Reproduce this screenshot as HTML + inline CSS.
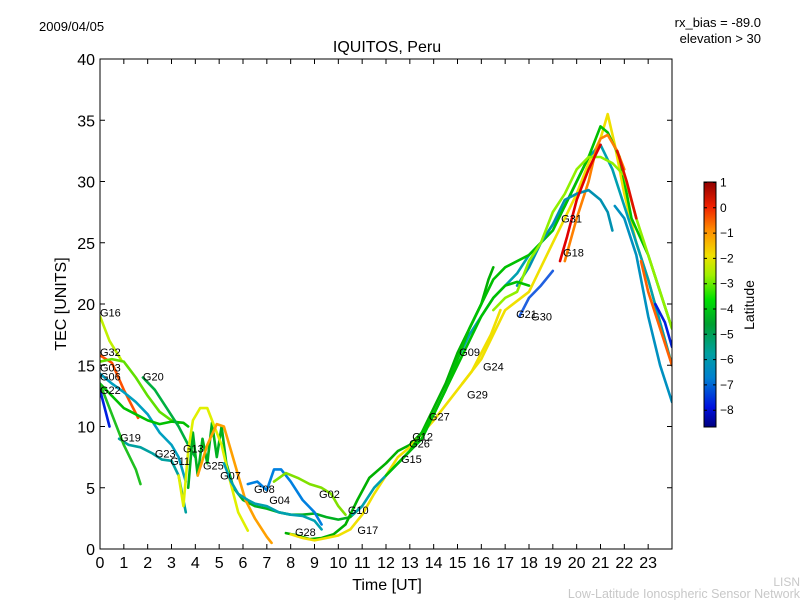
<!DOCTYPE html>
<html><head><meta charset="utf-8"><style>
body{margin:0;background:#fff;font-family:"Liberation Sans","DejaVu Sans",sans-serif}
svg text{font-family:"Liberation Sans","DejaVu Sans",sans-serif}
</style></head><body>
<svg id="chart" width="800" height="600" viewBox="0 0 800 600" xmlns="http://www.w3.org/2000/svg">
<defs>
<linearGradient id="jet" x1="0" y1="1" x2="0" y2="0">
<stop offset="0" stop-color="#000080"/><stop offset="0.08" stop-color="#0010e0"/>
<stop offset="0.2" stop-color="#0080d0"/><stop offset="0.3" stop-color="#00a0a0"/>
<stop offset="0.42" stop-color="#00a030"/><stop offset="0.52" stop-color="#00e000"/>
<stop offset="0.62" stop-color="#a0f000"/><stop offset="0.7" stop-color="#f0e000"/>
<stop offset="0.8" stop-color="#ff9000"/><stop offset="0.9" stop-color="#f02000"/>
<stop offset="1" stop-color="#900000"/></linearGradient>
<clipPath id="pc"><rect x="100" y="59" width="572" height="490"/></clipPath>
</defs>
<text x="39" y="31" font-size="13">2009/04/05</text>
<text x="761" y="27" font-size="13" text-anchor="end">rx_bias = -89.0</text>
<text x="761" y="43" font-size="13" text-anchor="end">elevation &gt; 30</text>
<text x="387" y="52" font-size="16" text-anchor="middle">IQUITOS, Peru</text>
<text x="387" y="590" font-size="16" text-anchor="middle">Time [UT]</text>
<text x="66" y="304" font-size="16" text-anchor="middle" transform="rotate(-90 66 304)">TEC [UNITS]</text>
<g id="tracks" clip-path="url(#pc)"></g>
<g id="labels"></g>
<rect x="100" y="59" width="572" height="490" fill="none" stroke="#000" stroke-width="1"/>
<g id="axes"></g>
<rect x="704" y="182" width="12" height="245" fill="url(#jet)" stroke="#000" stroke-width="1"/>
<g id="cbticks"></g>
<text x="754" y="305" font-size="14" text-anchor="middle" transform="rotate(-90 754 305)">Latitude</text>
<text x="800" y="586" font-size="12" fill="#c8c8c8" text-anchor="end">LISN</text>
<text x="800" y="598" font-size="12.5" fill="#c8c8c8" text-anchor="end">Low-Latitude Ionospheric Sensor Network</text>
</svg>
<script>
const xTicks=[0,1,2,3,4,5,6,7,8,9,10,11,12,13,14,15,16,17,18,19,20,21,22,23];
const yTicks=[0,5,10,15,20,25,30,35,40];
const cbTicks=[1,0,-1,-2,-3,-4,-5,-6,-7,-8];
const trackColors=["#c0f000","#ff5000","#60e000","#00a0c0","#00c000","#00b040","#00a0a0","#20c020","#0020e0","#00b020","#e0f000","#ffa000","#00a0b0","#0080e0","#80e000","#00b000","#f0e000","#00a0b0","#00c000","#ff8000","#0090b0","#90f000","#e00000","#e01000","#0090c0","#0020e0","#ff6000","#2060e0","#f0e000","#00c000"];
const trackTimes=[
[0,0.4,0.9],
[0,0.5,1.0,1.6],
[0,0.5,1,1.5,2,2.5,3,3.3],
[0,0.5,1,1.5,2,2.5,3,3.3,3.6],
[0,0.5,1,1.5,2,2.5,3,3.5,3.7],
[1.8,2.3,2.8,3.3,3.7,4],
[0.8,1.2,1.7,2.2,2.6,3,3.3,3.6],
[0,0.5,1.0,1.5,1.7],
[0,0.4],
[3.7,3.9,4.1,4.3,4.5,4.7,4.9,5.1,5.3,5.6,6,6.5,7,7.5,8,8.5,9,9.5,10,10.5,11],
[3.3,3.5,3.7,3.9,4.2,4.5,4.8,5.1,5.4,5.8,6.2],
[4.1,4.5,4.9,5.2,5.5,5.8,6.1,6.5,7,7.2],
[5.2,5.5,5.8,6.2,6.5,7,7.5,8,8.5,9,9.3],
[6.2,6.6,7,7.3,7.6,8,8.5,9,9.3],
[7.3,7.8,8.3,8.8,9.3,9.7,10,10.3],
[7.8,8.3,8.8,9.3,9.8,10.3,10.8,11.3,12,12.5,13,13.5,14,14.5,15,15.5,16,16.3,16.5],
[8,8.5,9,9.5,10,10.5,11,11.5,12,12.5,13,14,15,16,17,18,18.5,19,19.5,20,20.5,21,21.3,21.6,22,22.5,23,23.5,24],
[10.6,11,11.5,12,12.5,13,13.5,14,14.5,15,15.5,16,16.5,17,17.5,18,18.5,19,19.5,20,20.5,21,21.5,22,22.5,23,23.5,24],
[12.5,13.5,14.5,15.5,16.5,17,18,19,19.5,20,20.5,21,21.3,21.8,22.3,23,23.5,24],
[19.5,20,20.5,20.8,21,21.3,21.7,22],
[17.5,18,18.5,19,19.5,20,20.5,21,21.3,21.5],
[16.5,17,17.5,18,18.5,19,19.5,20,20.5,21,21.5,22,22.5,23,23.5,24],
[19.3,19.6,20,20.5,21],
[21.7,22.1,22.5],
[21.6,22,22.5,23,23.5,24],
[23.3,23.7,24],
[22.7,23,23.5,24],
[17.6,18,18.5,19],
[15.2,15.6,16,16.4,16.8],
[12,12.5,13,13.5,14,14.5,15,15.5,16,16.5,17,17.5,18]];
const trackValues=[
[19,17,15.4],
[15.8,15.2,13,10.7],
[15.3,15.5,15.3,14,12.5,11.2,10.5,10.3],
[14.3,13.5,12.8,12,11,9.5,8.5,7.5,5.5],
[13.5,12.5,11.5,11,10.5,10.2,10.4,10.3,10],
[14,13,11.5,10,8.5,7.5],
[9,8.5,8.3,7.8,7.3,7.2,6,3],
[13.5,11,8.5,6.5,5.3],
[13,10],
[5,9.5,6,9,7,10.3,7.5,10,7,5,4,3.5,3.3,3,2.8,2.8,2.9,2.6,2.4,2.6,3.5],
[6,3.5,8,10.5,11.5,11.5,10,8.5,6,3,1.5],
[6,8.5,10.2,10,8,6,4,2.5,1,0.5],
[7,5.5,4.5,4,3.7,3.5,3.0,2.8,2.7,2.3,1.6],
[5.3,5.5,4.8,6.5,6.5,5.5,4,3,2],
[5.5,6.2,5.8,5.3,5,4.5,3.5,2.8],
[1.3,1.1,0.8,0.9,1.2,2,4,5.8,7,8,8.5,9.5,11.5,13.5,16,18,20,22,23],
[1.2,0.9,0.7,0.9,1.1,1.6,2.8,4.5,6,7.5,8.3,10.5,13,15.5,19.5,21,23,25,27,29,31.5,33.5,35.5,33,29,25,22,18.5,15],
[2.8,3.5,5,6,7,8,9,11,13,15.5,17.5,19,20.5,21.5,22.5,24,25,26.5,28,30,32,33,31,28,25,22,18.5,15],
[7,9,13,18,22,23,24,26,28,30,32,34.5,34,32,27,24,21,18],
[23.5,27,30,32.5,33.5,33.8,32.5,31],
[21.5,23,25,26.5,28.5,29,29.3,28.5,27.5,26],
[19.5,20.5,21,23.5,25,27.5,29,31,32,32,31.5,30.5,27,24,21,18],
[23.5,25.5,28.5,31,33],
[32.5,30,27],
[28,27,24,19,15,12],
[20,18.5,16.5],
[23.5,21,18,15],
[19,20.5,21.5,22.7],
[13.5,14.5,16,17.5,19.5],
[6,7,8,9.5,11,13,15,17,19,20.5,21.5,21.8,21.5]];
const labelNames=["G16","G32","G03","G06","G22","G20","G19","G23","G11","G13","G25","G07","G08","G04","G02","G28","G10","G17","G15","G26","G12","G27","G29","G24","G09","G21","G30","G31","G18"];
const labelTimes=[0,0,0,0,0,1.8,0.84,2.3,2.94,3.48,4.32,5.04,6.46,7.1,9.19,8.18,10.4,10.8,12.63,12.97,13.1,13.8,15.4,16.07,15.07,17.46,18.09,19.35,19.43];
const labelValues=[19.3,16.1,14.8,14.1,13,14.1,9.1,7.8,7.2,8.2,6.8,6.0,4.9,4.0,4.5,1.4,3.2,1.55,7.35,8.6,9.2,10.8,12.6,14.9,16.1,19.2,19.0,27.0,24.2];

const NS="http://www.w3.org/2000/svg";
const X=t=>100+t*572/24, Y=v=>549-v*490/40;
function mk(tag,parent,attrs){const e=document.createElementNS(NS,tag);for(const k in attrs)e.setAttribute(k,attrs[k]);parent.appendChild(e);return e;}
const tg=document.getElementById('tracks');
trackTimes.forEach((ts,i)=>{
  const d=ts.map((t,j)=>(j?'L':'M')+X(t).toFixed(1)+' '+Y(trackValues[i][j]).toFixed(1)).join(' ');
  const p=mk('path',tg,{d:d,fill:'none',stroke:trackColors[i],'stroke-width':2.6,'stroke-linejoin':'round','stroke-linecap':'round'});
  
  
});
const lg=document.getElementById('labels');
labelNames.forEach((n,i)=>{
  const t=mk('text',lg,{x:X(labelTimes[i]),y:Y(labelValues[i])+4,'font-size':11});
  t.textContent=n;
  
  
});
const ax=document.getElementById('axes');
xTicks.forEach(t=>{
  const x=X(t);
  const l=mk('path',ax,{d:`M${x} 549v-5M${x} 59v5`,stroke:'#000','stroke-width':1});
  
  
  const tx=mk('text',ax,{x:x,y:568,'font-size':16,'text-anchor':'middle'});
  tx.textContent=t;
  
  
});
yTicks.forEach(v=>{
  const y=Y(v);
  const l=mk('path',ax,{d:`M100 ${y}h5M672 ${y}h-5`,stroke:'#000','stroke-width':1});
  
  
  const tx=mk('text',ax,{x:95,y:y+6,'font-size':16,'text-anchor':'end'});
  tx.textContent=v;
  
  
});
const cb=document.getElementById('cbticks');
cbTicks.forEach(v=>{
  const y=182.5+(1-v)*25.3;
  const l=mk('path',cb,{d:`M716 ${y}h-3M704 ${y}h3`,stroke:'#000','stroke-width':1});
  
  
  const tx=mk('text',cb,{x:720,y:y+4,'font-size':12});
  tx.textContent=v<0?'\u2212'+(-v):v;
  
  
});
</script>
</body></html>
